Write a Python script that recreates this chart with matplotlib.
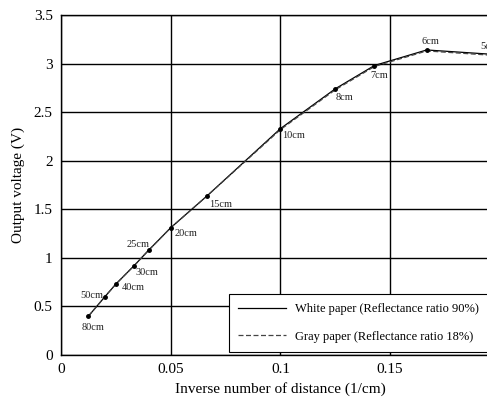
import matplotlib.pyplot as plt

# Data: distance labels, inverse distance (1/cm), output voltage (V)
labels = ["80cm", "50cm", "40cm", "30cm", "25cm", "20cm", "15cm",
          "10cm", "8cm", "7cm", "6cm", "5cm"]
inv_dist = [1 / 80, 1 / 50, 1 / 40, 1 / 30, 1 / 25, 1 / 20, 1 / 15,
            1 / 10, 1 / 8, 1 / 7, 1 / 6, 1 / 5]
white_v = [0.40, 0.60, 0.73, 0.92, 1.08, 1.31, 1.64,
           2.33, 2.74, 2.98, 3.14, 3.09]
gray_v = [0.40, 0.60, 0.73, 0.92, 1.08, 1.31, 1.64,
          2.32, 2.73, 2.97, 3.13, 3.08]

# label offsets in points (dx, dy)
offsets = [(-5, -10), (-18, -1), (4, -4), (1, -7), (-16, 2), (3, -6),
           (1, -8), (1, -7), (0, -8), (-3, -9), (-4, 4), (-14, 4)]

plt.rcParams["font.family"] = ["Liberation Serif", "DejaVu Serif"]

fig = plt.figure(figsize=(4.87, 4.0), dpi=100)
ax = fig.add_axes([0.1253, 0.1125, 0.901, 0.85])

ax.plot(inv_dist, white_v, color="black", linestyle="-", linewidth=0.9,
        label="White paper (Reflectance ratio 90%)")
ax.plot(inv_dist, gray_v, color="#444444", linestyle=(0, (4, 2)), linewidth=0.9,
        label="Gray paper (Reflectance ratio 18%)")
ax.plot(inv_dist, white_v, linestyle="none", marker="o", markersize=2.5,
        color="black")

for lab, x, y, off in zip(labels, inv_dist, white_v, offsets):
    ax.annotate(lab, (x, y), xytext=off, textcoords="offset points",
                fontsize=7.5, color="#222222", annotation_clip=False)

ax.set_xlim(0, 0.2)
ax.set_ylim(0, 3.5)
ax.set_xticks([0, 0.05, 0.1, 0.15])
ax.set_xticklabels(["0", "0.05", "0.1", "0.15"])
ax.set_yticks([0, 0.5, 1, 1.5, 2, 2.5, 3, 3.5])
ax.set_yticklabels(["0", "0.5", "1", "1.5", "2", "2.5", "3", "3.5"])
ax.tick_params(length=0, labelsize=11, pad=6)
ax.grid(True, color="black", linewidth=1)
for s in ax.spines.values():
    s.set_linewidth(1)

ax.set_xlabel("Inverse number of distance (1/cm)", fontsize=11, labelpad=4)
ax.set_ylabel("Output voltage (V)", fontsize=11, labelpad=6)

leg = ax.legend(loc="lower left", bbox_to_anchor=(0.383, 0.009), fontsize=9,
                fancybox=False, framealpha=1, edgecolor="black",
                borderaxespad=0, handlelength=3.8, handletextpad=0.7,
                borderpad=0.75, labelspacing=1.25)
leg.get_frame().set_linewidth(0.8)

fig.savefig("out.png", dpi=100)
